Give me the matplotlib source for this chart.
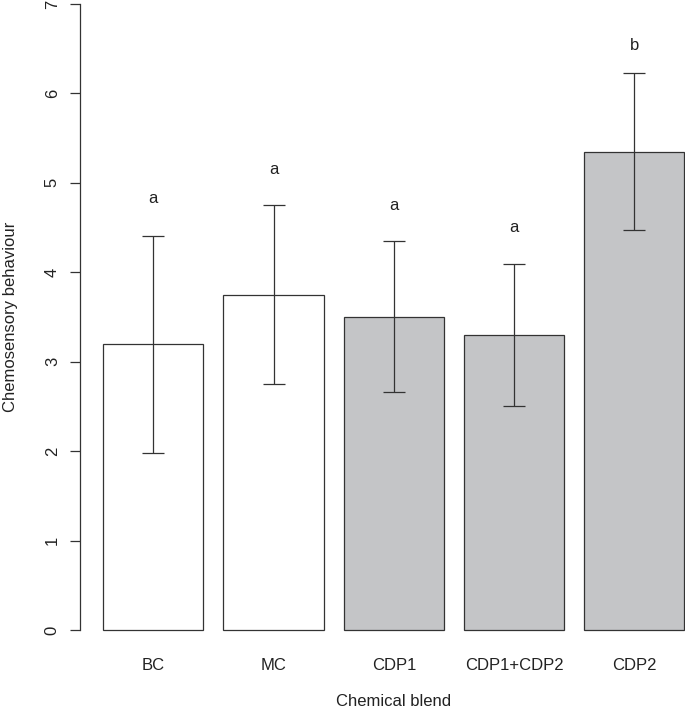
import matplotlib
matplotlib.use("Agg")
import matplotlib.pyplot as plt
import numpy as np

categories = ["BC", "MC", "CDP1", "CDP1+CDP2", "CDP2"]
means = [3.20, 3.75, 3.50, 3.30, 5.35]
err_low = [1.98, 2.75, 2.66, 2.51, 4.47]
err_high = [4.41, 4.75, 4.35, 4.09, 6.23]
letters = ["a", "a", "a", "a", "b"]
letter_y = [4.83, 5.15, 4.75, 4.50, 6.54]
fills = ["white", "white", "#C4C5C7", "#C4C5C7", "#C4C5C7"]
yticks = [0, 1, 2, 3, 4, 5, 6, 7]

plt.rcParams["font.family"] = ["Liberation Sans", "DejaVu Sans"]
TXT = "#222222"
LN = "#333333"

fig = plt.figure(figsize=(6.85, 7.11), dpi=100)
ax = fig.add_axes([80 / 685, 56 / 711, 627.7 / 685, 676 / 711])

n = len(categories)
x = 0.2 + 1.2 * np.arange(n) + 0.5
ax.bar(x, means, width=1.0, color=fills, edgecolor=LN, linewidth=0.9)

lo = np.array(means) - np.array(err_low)
hi = np.array(err_high) - np.array(means)
ax.errorbar(x, means, yerr=[lo, hi], fmt="none", ecolor=LN, elinewidth=0.9,
            capsize=8, capthick=0.9)

for xi, lab, ly in zip(x, letters, letter_y):
    ax.text(xi, ly, lab, ha="center", va="center", fontsize=12, color=TXT)

ax.set_xlim(-0.032, 6.232)
ax.set_ylim(-0.28, 7.28)

for s in ["top", "right", "bottom"]:
    ax.spines[s].set_visible(False)
ax.spines["left"].set_bounds(0, 7)
ax.spines["left"].set_color(LN)
ax.spines["left"].set_linewidth(0.9)

ax.set_yticks(yticks)
ax.set_yticklabels([str(t) for t in yticks], rotation=90, va="center",
                   fontsize=12, color=TXT)
ax.tick_params(axis="y", length=7.5, width=0.9, color=LN, pad=7)

ax.set_xticks(x)
ax.set_xticklabels(categories, fontsize=12, color=TXT)
ax.tick_params(axis="x", length=0, pad=2)

ax.set_xlabel("Chemical blend", fontsize=12, color=TXT, labelpad=15)
ax.set_ylabel("Chemosensory behaviour", fontsize=12, color=TXT)
ax.yaxis.set_label_coords(-62 / 627.7, (655 - 317) / 676)

fig.savefig("out.png", dpi=100)
